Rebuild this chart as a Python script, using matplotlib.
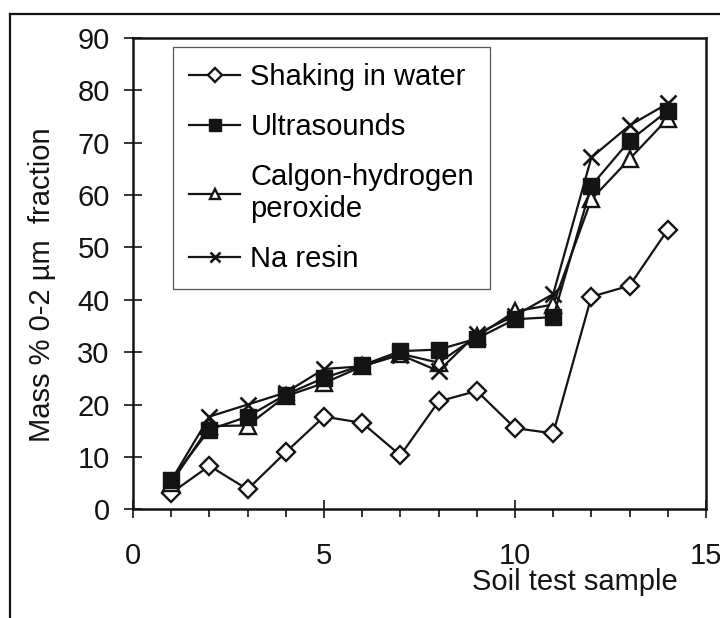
import matplotlib
matplotlib.use("Agg")
import matplotlib.pyplot as plt
from matplotlib.lines import Line2D
from matplotlib.ticker import MultipleLocator

plt.rcParams['font.family'] = ['Liberation Sans', 'DejaVu Sans']

samples = list(range(1, 15))
shaking = [3.1, 8.3, 3.8, 10.9, 17.7, 16.5, 10.3, 20.6, 22.6, 15.5, 14.5, 40.6, 42.7, 53.4]
ultrasounds = [5.6, 15.2, 17.7, 21.9, 25.1, 27.5, 30.2, 30.5, 32.6, 36.3, 36.7, 61.8, 70.4, 76.1]
calgon = [5.0, 15.9, 16.0, 21.6, 24.1, 27.3, 29.7, 28.0, 33.0, 37.8, 39.1, 59.2, 66.9, 74.6]
na_resin = [5.5, 17.7, 20.0, 22.3, 26.8, 27.3, 29.5, 26.4, 33.5, 37.0, 41.1, 67.2, 73.3, 77.5]

labels = ["Shaking in water", "Ultrasounds", "Calgon-hydrogen\nperoxide", "Na resin"]

fig = plt.figure(figsize=(7.2, 6.18), dpi=100)
ax = fig.add_axes([133/720, 1-509.3/618, (706-133)/720, (509.3-38)/618])

c = '#141414'
lw = 1.6
fs = 21
ax.plot(samples, shaking, color=c, lw=lw, marker='D', ms=9.5, mfc='white', mec=c, mew=1.7, label=labels[0], zorder=3)
ax.plot(samples, calgon, color=c, lw=lw, marker='^', ms=11, mfc='white', mec=c, mew=1.7, label=labels[2], zorder=4)
ax.plot(samples, na_resin, color=c, lw=lw, marker='x', ms=11, mec=c, mew=1.9, label=labels[3], zorder=5)
ax.plot(samples, ultrasounds, color=c, lw=lw, marker='s', ms=11.5, mfc=c, mec=c, label=labels[1], zorder=6)

ax.set_xlim(0, 15)
ax.set_ylim(0, 90)
ax.xaxis.set_major_locator(MultipleLocator(5))
ax.xaxis.set_minor_locator(MultipleLocator(1))
ax.yaxis.set_major_locator(MultipleLocator(10))
ax.tick_params(axis='x', which='major', direction='inout', length=13, width=1.2, pad=17, labelsize=fs, colors=c)
ax.tick_params(axis='x', which='minor', direction='out', length=6, width=1.2, colors=c)
ax.tick_params(axis='y', which='major', direction='inout', length=13.5, width=1.2, pad=10, labelsize=fs, colors=c)
for s in ax.spines.values():
    s.set_linewidth(1.8)
    s.set_color(c)

ax.set_ylabel("Mass % 0-2 µm  fraction", fontsize=fs, color=c)
ax.yaxis.label.set_va('center')
ax.yaxis.set_label_coords((42-133)/573, (509.3-285)/471.3)
ax.set_xlabel("Soil test sample", fontsize=fs, color=c)
ax.xaxis.label.set_va('center')
ax.xaxis.set_label_coords((574.5-133)/573, (509.3-582)/471.3)

handles, labs = ax.get_legend_handles_labels()
order = [labels.index(l) for l in labs]
hl = sorted(zip(order, handles, labs))
leg = ax.legend([h for _, h, _ in hl], [l for _, _, l in hl],
                loc='upper left', bbox_to_anchor=((173-133)/573, (509.3-47)/471.3),
                fontsize=fs, frameon=True, fancybox=False, edgecolor='#555555',
                framealpha=1, borderpad=0.55, labelspacing=0.75, handlelength=1.75,
                handletextpad=0.35, borderaxespad=0, markerscale=0.7)
leg.get_frame().set_linewidth(0.9)

# outer frame
fig.add_artist(Line2D([10/720, 10/720], [0, 1-14/618], color=c, lw=1.6, transform=fig.transFigure))
fig.add_artist(Line2D([10/720, 1], [1-14/618, 1-14/618], color=c, lw=1.6, transform=fig.transFigure))

fig.savefig("out.png", dpi=100)
